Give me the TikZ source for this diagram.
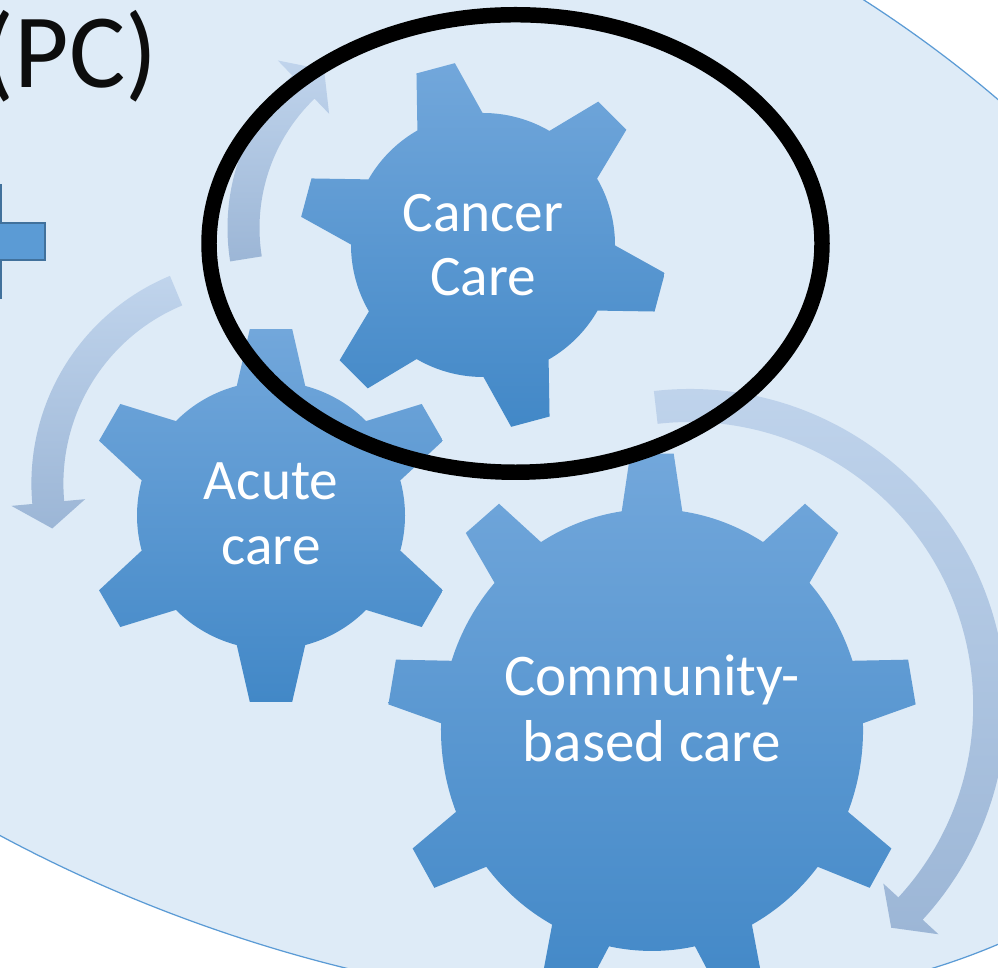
\documentclass[tikz,border=0pt]{standalone}
\usepackage{fontspec}
\setmainfont{Carlito}
\definecolor{bgblue}{RGB}{222,235,247}
\definecolor{bgline}{RGB}{91,155,213}
\definecolor{plusfill}{RGB}{91,155,213}
\definecolor{plusline}{RGB}{65,113,156}
\definecolor{geartop}{RGB}{114,167,219}
\definecolor{gearmid}{RGB}{91,157,217}
\definecolor{gearbot}{RGB}{66,136,199}
\definecolor{arrowtop}{RGB}{192,212,236}
\definecolor{arrowbot}{RGB}{156,182,214}
\begin{document}
\begin{tikzpicture}[x = 0.01cm, y = 0.01cm,
	gearfill/.style = {top color = geartop, middle color = gearmid, bottom color = gearbot},
	arrowband/.style = {top color = arrowtop, bottom color = arrowbot},
	gearlabel/.style = {text = white, align = center, inner sep = 0,
		font = \fontsize{16.3}{18.4}\selectfont}]
	\path[use as bounding box] (0,0) rectangle (998,967);
	\clip (0,0) rectangle (998,967);
	\fill[white] (0,0) rectangle (998,967);
	
	\coordinate[](cancerc) at (483,722) ;
	\coordinate[](acutec) at (271,453.3) ;
	\coordinate[](communityc) at (652,258.6) ;
	
	% background ellipse
	\draw[fill = bgblue, draw = bgline, line width = 0.35pt,
		rotate around = {-20:(385.6,576.5)}]
		(385.6,576.5) ellipse [x radius = 916, y radius = 565];
	
	% plus sign, mostly off the page
	\draw[fill = plusfill, draw = plusline, line width = 0.6pt]
		(-36,782) -- (0.5,782) -- (0.5,743.7) -- (45,743.7) -- (45,707)
		-- (0.5,707) -- (0.5,669) -- (-36,669) -- cycle;
	
	\node[anchor = base east, inner sep = 0, font = \fontsize{30}{36}\selectfont,
		text = black!95] (pc) at (158,879) {(PC)};
	
	% circular arrows
	\begin{scope}[shift = {(439,739)}]
		\shade[arrowband] (189.1:211.5) arc[start angle = 189.1, end angle = 133.9, radius = 211.5]
			-- (133.9:232.5) -- (126:195.5) -- (133.9:158.5)
			-- (133.9:179.5) arc[start angle = 133.9, end angle = 189.1, radius = 179.5] -- cycle;
	\end{scope}
	\begin{scope}[shift = {(256.4,483.4)}]
		\shade[arrowband] (112.6:225) arc[start angle = 112.6, end angle = 185.2, radius = 225]
			-- (185.2:246) -- (192.4:209) -- (185.2:172)
			-- (185.2:193) arc[start angle = 185.2, end angle = 112.6, radius = 193] -- cycle;
	\end{scope}
	\begin{scope}[shift = {(689.7,261.5)}]
		\shade[arrowband] (96.5:316.5) arc[start angle = 96.5, end angle = -42.6, radius = 316.5]
			-- (-42.6:338) -- (-47.8:300) -- (-42.6:263)
			-- (-42.6:283.5) arc[start angle = -42.6, end angle = 96.5, radius = 283.5] -- cycle;
	\end{scope}
	
	% gears
	\begin{scope}[shift = {(483,722)}]
		\shade[gearfill] (45-14.8:132) \foreach \t in {45,105,...,345} {
			-- (\t-6.2:184) -- (\t+6.2:184) -- (\t+14.8:132)
			arc[start angle = \t+14.8, end angle = \t+45.2, radius = 132] } -- cycle;
	\end{scope}
	\begin{scope}[shift = {(271,451.5)}]
		\shade[gearfill] (30-14.8:134) \foreach \t in {30,90,...,330} {
			-- (\t-6.5:187.5) -- (\t+6.5:187.5) -- (\t+14.8:134)
			arc[start angle = \t+14.8, end angle = \t+45.2, radius = 134] } -- cycle;
	\end{scope}
	\begin{scope}[shift = {(652,237)}, xscale = 0.977, yscale = 1.023]
		\shade[gearfill] (10-8.25:216) \foreach \t in {10,50,...,330} {
			-- (\t-4.7:271) -- (\t+4.7:271) -- (\t+8.25:216)
			arc[start angle = \t+8.25, end angle = \t+31.75, radius = 216] } -- cycle;
	\end{scope}
	
	\node[gearlabel] (cancer) at (cancerc) {Cancer\\Care};
	\node[gearlabel] (acute) at (acutec) {Acute\\care};
	\node[gearlabel, font = \fontsize{16.8}{19}\selectfont] (community)
		at (communityc) {Community-\\based care};
	
	% ring round cancer care
	\draw[line width = 4.4pt] (515.5,723.5) ellipse [x radius = 306.5, y radius = 228.75];
\end{tikzpicture}
\end{document}
